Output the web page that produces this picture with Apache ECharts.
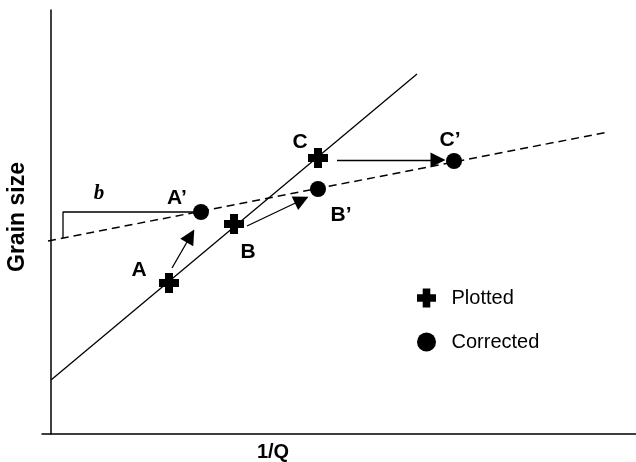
<!DOCTYPE html>
<html>
<head>
<meta charset="utf-8">
<script src="https://cdn.jsdelivr.net/npm/echarts@6/dist/echarts.min.js"></script>
<style>html,body{margin:0;padding:0;background:#fff;}#c{width:636px;height:462px;}</style>
</head>
<body>
<div id="c"></div>
<script>
// Data (arbitrary units)
const plottedNames = ['A', 'B', 'C'];
const plottedX = [11.8, 18.3, 26.7];
const plottedY = [15.1, 21.0, 27.6];
const correctedNames = ['A\u2019', 'B\u2019', 'C\u2019'];
const correctedX = [15.0, 26.7, 40.3];
const correctedY = [22.2, 24.5, 27.3];
// uncorrected trend (solid) and corrected trend (dashed)
const solidLineX = [0, 36.6];
const solidLineY = [5.4, 36.0];
const dashedLineX = [-0.3, 55.7];
const dashedLineY = [19.3, 30.2];
// bracket showing intercept b
const bracketX = [1.2, 1.2, 14.2];
const bracketY = [19.6, 22.2, 22.2];
// arrows from plotted to corrected
const arrowFromX = [12.1, 19.6, 28.6];
const arrowFromY = [16.6, 20.8, 27.4];
const arrowToX = [13.95, 25.07, 38.7];
const arrowToY = [19.8, 23.4, 27.4];
const seriesNames = ['Plotted', 'Corrected'];
const axisNames = ['1/Q', 'Grain size'];

// label placement (style only)
const plottedLabelOffsets = [[-30, -13], [14, 28], [-18, -16]];
const correctedLabelOffsets = [[-24, -14], [23, 26], [-4, -21]];

const zip = (xs, ys) => xs.map((x, i) => [x, ys[i]]);
const crossPath = 'path://M3,0H7V3H10V7H7V10H3V7H0V3H3Z';
const labelFont = {fontFamily: '"Liberation Sans", Arial, sans-serif', fontWeight: 'bold', fontSize: 21, color: '#000'};

const chart = echarts.init(document.getElementById('c'));
chart.setOption({
  animation: false,
  backgroundColor: '#fff',
  grid: {left: 42, right: 0, top: 10, bottom: 28, containLabel: false, outerBoundsMode: 'none'},
  legend: {
    orient: 'vertical', left: 412, top: 283,
    itemWidth: 40, itemHeight: 19, itemGap: 24,
    data: seriesNames,
    itemStyle: {opacity: 1},
    textStyle: {fontFamily: '"Liberation Sans", Arial, sans-serif', fontSize: 20, color: '#000'}
  },
  xAxis: {
    type: 'value', min: -0.9, max: 58.5,
    name: axisNames[0], nameLocation: 'middle', nameGap: 8,
    nameTextStyle: {fontFamily: '"Liberation Sans", Arial, sans-serif', fontWeight: 'bold', fontSize: 20, color: '#000', padding: [0, 132, 0, 0]},
    axisLine: {show: true, onZero: true, lineStyle: {color: '#000', width: 1.5}},
    axisTick: {show: false}, axisLabel: {show: false}, splitLine: {show: false}
  },
  yAxis: {
    type: 'value', min: 0, max: 42.4,
    name: axisNames[1], nameLocation: 'middle', nameGap: 13,
    nameTextStyle: {fontFamily: '"Liberation Sans", Arial, sans-serif', fontWeight: 'bold', fontSize: 23, color: '#000', padding: [0, 0, 0, 10]},
    axisLine: {show: true, onZero: true, lineStyle: {color: '#000', width: 1.5}},
    axisTick: {show: false}, axisLabel: {show: false}, splitLine: {show: false}
  },
  series: [
    {
      type: 'line', data: zip(solidLineX, solidLineY), symbol: 'none', silent: true,
      lineStyle: {color: '#000', width: 1.3}, z: 2
    },
    {
      type: 'line', data: zip(dashedLineX, dashedLineY), symbol: 'none', silent: true,
      lineStyle: {color: '#000', width: 1.5, type: [8, 5]}, z: 2
    },
    {
      type: 'line', data: zip(bracketX, bracketY), symbol: 'none', silent: true,
      lineStyle: {color: '#000', width: 1.3}, z: 2,
      markPoint: {
        symbol: 'circle', symbolSize: 0, silent: true,
        data: [{coord: [4.8, 24.0], value: 'b'}],
        label: {show: true, position: 'inside', formatter: 'b', fontFamily: '"Liberation Serif", "Times New Roman", serif', fontStyle: 'italic', fontWeight: 'bold', fontSize: 21, color: '#000'}
      }
    },
    {
      type: 'lines', coordinateSystem: 'cartesian2d', silent: true, z: 3,
      symbol: ['none', 'triangle'], symbolSize: [12, 15],
      lineStyle: {color: '#000', width: 1.3, opacity: 1},
      itemStyle: {color: '#000'},
      data: arrowFromX.map((x, i) => ({coords: [[x, arrowFromY[i]], [arrowToX[i], arrowToY[i]]]}))
    },
    {
      name: seriesNames[0], type: 'scatter', symbol: crossPath, symbolSize: 20, symbolKeepAspect: true,
      itemStyle: {color: '#000', opacity: 1}, z: 5,
      label: Object.assign({show: true, position: 'inside', formatter: '{b}'}, labelFont),
      data: plottedNames.map((n, i) => ({name: n, value: [plottedX[i], plottedY[i]], label: {offset: plottedLabelOffsets[i]}}))
    },
    {
      name: seriesNames[1], type: 'scatter', symbol: 'circle', symbolSize: 16,
      itemStyle: {color: '#000', opacity: 1}, z: 5,
      label: Object.assign({show: true, position: 'inside', formatter: '{b}'}, labelFont),
      data: correctedNames.map((n, i) => ({name: n, value: [correctedX[i], correctedY[i]], label: {offset: correctedLabelOffsets[i]}}))
    }
  ]
});
</script>
</body>
</html>
